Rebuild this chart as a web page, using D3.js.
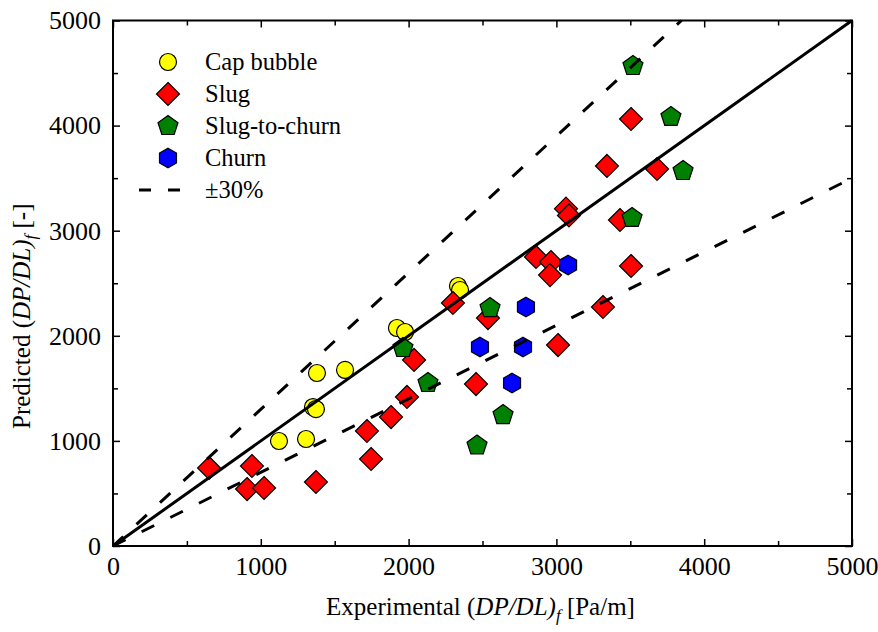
<!DOCTYPE html>
<html><head><meta charset="utf-8">
<script src="https://cdn.jsdelivr.net/npm/d3@7"></script>
<style>body{margin:0;background:#fff}svg{display:block}</style>
</head><body>
<svg id="c" width="878" height="632"></svg>
<script>
const capBubble = [[1123,999],[1306,1018],[1353,1322],[1373,1303],[1380,1646],[1570,1675],[1921,2074],[1976,2036],[2334,2474],[2348,2436]];
const slug = [[650,742],[940,761],[907,542],[1022,552],[1373,609],[1718,1094],[1746,828],[1881,1227],[1989,1418],[2037,1770],[2300,2312],[2456,1541],[2537,2169],[2862,2750],[2963,2702],[2957,2578],[3065,3210],[3085,3145],[3430,3102],[3505,2664],[3315,2274],[3011,1912],[3505,4063],[3342,3616],[3681,3587]];
const slugToChurn = [[1962,1884],[2131,1551],[2463,956],[2551,2264],[2639,1246],[3512,3121],[3518,4567],[3775,4082],[3857,3568]];
const churn = [[2483,1893],[2700,1551],[2774,1893],[2794,2274],[3079,2674]];
const seriesNames = ["Cap bubble","Slug","Slug-to-churn","Churn"];
const seriesColors = ["#ffff00","#ff0000","#008000","#0000ff"];
const majorTicks = [0,1000,2000,3000,4000,5000];
const minorTicks = [500,1500,2500,3500,4500];
const bandFactors = [1.3,0.7];
const domainMax = 5000;

const svg = d3.select("#c");
const L=113, R=852, T=20.5, B=546;
const x = d3.scaleLinear().domain([0,domainMax]).range([L,R]);
const y = d3.scaleLinear().domain([0,domainMax]).range([B,T]);
const font = "'Liberation Serif','Times New Roman',serif";

function poly(n, r, rot){
  const pts=[];
  for(let i=0;i<n;i++){const a=rot+i*2*Math.PI/n; pts.push([r*Math.sin(a), -r*Math.cos(a)]);}
  return "M"+pts.map(p=>p[0].toFixed(2)+","+p[1].toFixed(2)).join("L")+"Z";
}
const shapes = [
  {type:"circle", r:8.5},
  {type:"path", d:poly(4,11.5,0)},
  {type:"path", d:poly(5,10.5,0)},
  {type:"path", d:poly(6,9.8,0)}
];
function drawMarker(g, i, cx, cy){
  const s=shapes[i];
  if(s.type==="circle"){
    g.append("circle").attr("cx",cx).attr("cy",cy).attr("r",s.r)
      .attr("fill",seriesColors[i]).attr("stroke","#000").attr("stroke-width",1.2);
  } else {
    g.append("path").attr("d",s.d).attr("transform",`translate(${cx},${cy})`)
      .attr("fill",seriesColors[i]).attr("stroke","#000").attr("stroke-width",1.2);
  }
}

// markers
const allSeries=[capBubble,slug,slugToChurn,churn];
const mg = svg.append("g");
allSeries.forEach((data,i)=>{
  data.forEach(d=>drawMarker(mg,i,x(d[0]),y(d[1])));
});

// lines
const lg = svg.append("g");
lg.append("line").attr("x1",x(0)).attr("y1",y(0)).attr("x2",x(domainMax)).attr("y2",y(domainMax))
  .attr("stroke","#000").attr("stroke-width",3);
bandFactors.forEach(f=>{
  const xe = Math.min(domainMax, domainMax/f);
  lg.append("line").attr("x1",x(0)).attr("y1",y(0)).attr("x2",x(xe)).attr("y2",y(xe*f))
    .attr("stroke","#000").attr("stroke-width",3).attr("stroke-dasharray","14,18");
});

// axes
function styleAxis(g){
  g.select(".domain").remove();
  g.selectAll("line").attr("stroke","#000").attr("stroke-width",1.5);
  g.selectAll("text").attr("font-family",font).attr("font-size",26).attr("fill","#000");
}
svg.append("g").attr("transform",`translate(0,${B})`)
  .call(d3.axisBottom(x).tickValues(majorTicks).tickFormat(d3.format("d")).tickSizeInner(-7).tickSizeOuter(0).tickPadding(11))
  .call(styleAxis);
svg.append("g").attr("transform",`translate(0,${B})`)
  .call(d3.axisBottom(x).tickValues(minorTicks).tickFormat("").tickSizeInner(-5).tickSizeOuter(0)).call(styleAxis);
svg.append("g").attr("transform",`translate(0,${T})`)
  .call(d3.axisTop(x).tickValues(majorTicks).tickFormat("").tickSizeInner(-7).tickSizeOuter(0)).call(styleAxis);
svg.append("g").attr("transform",`translate(0,${T})`)
  .call(d3.axisTop(x).tickValues(minorTicks).tickFormat("").tickSizeInner(-5).tickSizeOuter(0)).call(styleAxis);
svg.append("g").attr("transform",`translate(${L},0)`)
  .call(d3.axisLeft(y).tickValues(majorTicks).tickFormat(d3.format("d")).tickSizeInner(-7).tickSizeOuter(0).tickPadding(12))
  .call(styleAxis);
svg.append("g").attr("transform",`translate(${L},0)`)
  .call(d3.axisLeft(y).tickValues(minorTicks).tickFormat("").tickSizeInner(-5).tickSizeOuter(0)).call(styleAxis);
svg.append("g").attr("transform",`translate(${R},0)`)
  .call(d3.axisRight(y).tickValues(majorTicks).tickFormat("").tickSizeInner(-7).tickSizeOuter(0)).call(styleAxis);
svg.append("g").attr("transform",`translate(${R},0)`)
  .call(d3.axisRight(y).tickValues(minorTicks).tickFormat("").tickSizeInner(-5).tickSizeOuter(0)).call(styleAxis);

svg.append("rect").attr("x",L).attr("y",T).attr("width",R-L).attr("height",B-T)
  .attr("fill","none").attr("stroke","#000").attr("stroke-width",2);

// axis titles
function title(t, parts){
  parts.forEach(p=>{
    const ts=t.append("tspan").text(p.t);
    if(p.i) ts.attr("font-style","italic");
    if(p.sub) ts.attr("font-size",17).attr("baseline-shift","-35%");
  });
}
const xt = svg.append("text").attr("x",(L+R)/2-2).attr("y",615).attr("text-anchor","middle")
  .attr("font-family",font).attr("font-size",25);
title(xt,[{t:"Experimental ("},{t:"DP/DL)",i:1},{t:"f",i:1,sub:1},{t:" [Pa/m]"}]);
const yt = svg.append("text").attr("transform",`translate(30,${(T+B)/2+33}) rotate(-90)`).attr("text-anchor","middle")
  .attr("font-family",font).attr("font-size",25);
title(yt,[{t:"Predicted ("},{t:"DP/DL)",i:1},{t:"f",i:1,sub:1},{t:" [-]"}]);

// legend
const leg = svg.append("g");
const lx=168, ly0=62, dy=32;
seriesNames.forEach((n,i)=>{
  drawMarker(leg,i,lx,ly0+i*dy);
  leg.append("text").attr("x",205).attr("y",ly0+i*dy+8).attr("font-family",font).attr("font-size",24.5).text(n);
});
leg.append("line").attr("x1",139).attr("x2",183).attr("y1",ly0+4*dy).attr("y2",ly0+4*dy)
  .attr("stroke","#000").attr("stroke-width",3).attr("stroke-dasharray","12,17");
leg.append("text").attr("x",205).attr("y",ly0+4*dy+8).attr("font-family",font).attr("font-size",24.5).text("±30%");
</script>
</body></html>
